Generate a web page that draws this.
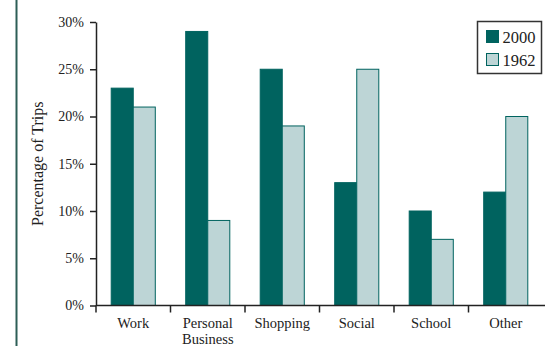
<!DOCTYPE html>
<html>
<head>
<meta charset="utf-8">
<script src="https://cdn.jsdelivr.net/npm/d3@7"></script>
<style>
  body { margin: 0; background: #fff; }
  svg { display: block; font-family: "Liberation Serif", "DejaVu Serif", serif; }
</style>
</head>
<body>
<div id="chart"></div>
<script>
const categories = ["Work", "Personal\nBusiness", "Shopping", "Social", "School", "Other"];
const values2000 = [23, 29, 25, 13, 10, 12];
const values1962 = [21, 9, 19, 25, 7, 20];
const seriesNames = ["2000", "1962"];
const yTicks = [0, 5, 10, 15, 20, 25, 30];

const width = 545,
  height = 346,
  margin = { top: 22, right: 2, bottom: 40.5, left: 96 };

const dark = "#00635f",
  light = "#bdd5d6";

const svg = d3
  .select("#chart")
  .append("svg")
  .attr("width", width)
  .attr("height", height);

// left decorative rule
svg
  .append("line")
  .attr("x1", 16.5)
  .attr("x2", 16.5)
  .attr("y1", 0)
  .attr("y2", height)
  .attr("stroke", "#2d5e57")
  .attr("stroke-width", 2);

let x = d3
  .scaleBand()
  .domain(categories)
  .range([margin.left, 543])
  .paddingInner(0)
  .paddingOuter(0);

let x1 = d3
  .scaleBand()
  .domain(seriesNames)
  .range([0, x.bandwidth()])
  .paddingOuter(0.69)
  .paddingInner(0);

let y = d3
  .scaleLinear()
  .domain([0, 30])
  .range([height - margin.bottom, margin.top]);

const data = categories.map((c, i) => ({
  cat: c,
  vals: [
    { key: "2000", value: values2000[i] },
    { key: "1962", value: values1962[i] },
  ],
}));

// bars
const groups = svg
  .append("g")
  .selectAll("g")
  .data(data)
  .join("g")
  .attr("transform", (d) => `translate(${x(d.cat)},0)`);

groups
  .selectAll("rect")
  .data((d) => d.vals)
  .join("rect")
  .attr("x", (d) => x1(d.key))
  .attr("y", (d) => y(d.value))
  .attr("width", x1.bandwidth())
  .attr("height", (d) => y(0) - y(d.value))
  .attr("fill", (d) => (d.key === "2000" ? dark : light))
  .attr("stroke", dark)
  .attr("stroke-width", 1);

// y axis
const yAxis = svg
  .append("g")
  .attr("transform", `translate(${margin.left},0)`)
  .call(
    d3
      .axisLeft(y)
      .tickValues(yTicks)
      .tickSize(6)
      .tickSizeOuter(0)
      .tickPadding(6)
      .tickFormat((d) => d + "%")
  );
yAxis.selectAll("text").attr("font-size", 14).attr("font-family", "Liberation Serif").attr("fill", "#222");
yAxis.select(".domain").attr("stroke", "#222").attr("stroke-width", 1.5);
yAxis.selectAll(".tick line").attr("stroke", "#222").attr("stroke-width", 1.5);

// x axis with boundary ticks
const xAxis = svg.append("g").attr("transform", `translate(0,${y(0)})`);
xAxis
  .append("line")
  .attr("x1", margin.left)
  .attr("x2", width)
  .attr("stroke", "#222")
  .attr("stroke-width", 1.5);
xAxis
  .selectAll(".bound")
  .data(categories)
  .join("line")
  .attr("class", "bound")
  .attr("x1", (d) => x(d))
  .attr("x2", (d) => x(d))
  .attr("y1", 0)
  .attr("y2", 7)
  .attr("stroke", "#222")
  .attr("stroke-width", 1.5);

xAxis
  .selectAll(".cat")
  .data(categories)
  .join("text")
  .attr("class", "cat")
  .attr("text-anchor", "middle")
  .attr("font-size", 14.5)
  .attr("fill", "#222")
  .attr("transform", (d) => `translate(${x(d) + x.bandwidth() / 2},22)`)
  .selectAll("tspan")
  .data((d) => d.split("\n"))
  .join("tspan")
  .attr("x", 0)
  .attr("dy", (d, i) => (i === 0 ? 0 : 16))
  .text((d) => d);

// y label
svg
  .append("text")
  .attr("transform", `translate(43,${(margin.top + y(0)) / 2}) rotate(-90)`)
  .attr("text-anchor", "middle")
  .attr("font-size", 16)
  .attr("fill", "#222")
  .text("Percentage of Trips");

// legend
const legend = svg.append("g").attr("transform", "translate(477.5,21.5)");
legend
  .append("rect")
  .attr("width", 64)
  .attr("height", 52)
  .attr("fill", "#fff")
  .attr("stroke", "#333")
  .attr("stroke-width", 1.5);

const items = legend
  .selectAll(".item")
  .data(seriesNames)
  .join("g")
  .attr("class", "item")
  .attr("transform", (d, i) => `translate(9,${9 + i * 23})`);

items
  .append("rect")
  .attr("width", 12)
  .attr("height", 12)
  .attr("fill", (d) => (d === "2000" ? dark : light))
  .attr("stroke", dark)
  .attr("stroke-width", 1);

items
  .append("text")
  .attr("x", 16)
  .attr("y", 12)
  .attr("font-size", 16.5)
  .attr("fill", "#222")
  .text((d) => d);
</script>
</body>
</html>
